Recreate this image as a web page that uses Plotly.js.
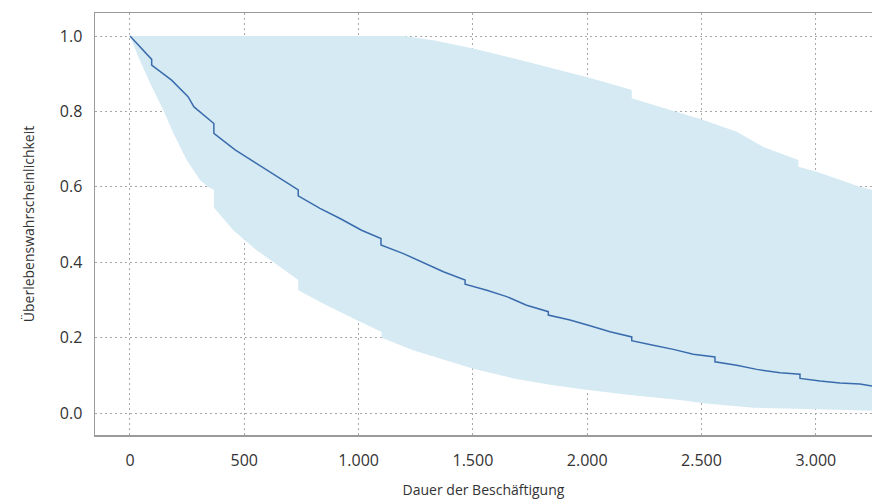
<!DOCTYPE html>
<html>
<head>
<meta charset="utf-8">
<script src="https://cdn.plot.ly/plotly-3.0.1.min.js"></script>
<style>html,body{margin:0;padding:0;background:#fff;overflow:hidden;}#chart{width:872px;height:499px;}</style>
</head>
<body>
<div id="chart"></div>
<script>
// Kaplan-Meier estimate (days, survival probability); repeated days mark visible drops
var kmTime = [0, 95, 95, 182, 254, 280, 367, 367, 460, 554, 641, 736, 736, 831, 919, 1013, 1098, 1098, 1196, 1276, 1371, 1466, 1466, 1561, 1648, 1735, 1830, 1830, 1925, 2005, 2100, 2195, 2195, 2289, 2377, 2464, 2559, 2559, 2654, 2742, 2844, 2931, 2931, 3019, 3106, 3193, 3246];
var kmSurv = [1.0, 0.938, 0.923, 0.883, 0.839, 0.812, 0.768, 0.742, 0.698, 0.662, 0.627, 0.592, 0.576, 0.543, 0.516, 0.485, 0.463, 0.446, 0.423, 0.401, 0.375, 0.353, 0.342, 0.326, 0.309, 0.286, 0.269, 0.260, 0.247, 0.233, 0.216, 0.202, 0.192, 0.180, 0.169, 0.156, 0.149, 0.136, 0.127, 0.116, 0.107, 0.103, 0.092, 0.085, 0.080, 0.077, 0.072];
// Confidence band
var upperTime = [0, 1200, 1327, 1502, 1677, 1851, 2005, 2144, 2195, 2195, 2362, 2508, 2654, 2771, 2924, 2924, 3004, 3092, 3193, 3246];
var upperVal = [1.0, 1.0, 0.989, 0.967, 0.941, 0.914, 0.890, 0.866, 0.857, 0.835, 0.804, 0.777, 0.746, 0.706, 0.671, 0.653, 0.640, 0.622, 0.600, 0.592];
var lowerTime = [0, 36, 95, 146, 190, 248, 306, 340, 367, 367, 452, 554, 627, 736, 736, 845, 991, 1101, 1101, 1239, 1502, 1677, 1851, 2005, 2187, 2406, 2508, 2727, 3004, 3246];
var lowerVal = [1.0, 0.945, 0.866, 0.804, 0.742, 0.671, 0.618, 0.600, 0.592, 0.545, 0.485, 0.432, 0.401, 0.353, 0.326, 0.291, 0.247, 0.215, 0.200, 0.167, 0.118, 0.092, 0.074, 0.061, 0.048, 0.035, 0.026, 0.014, 0.010, 0.006];
var xTickVals = [0, 500, 1000, 1500, 2000, 2500, 3000];
var xTickText = ['0', '500', '1.000', '1.500', '2.000', '2.500', '3.000'];
var yTickVals = [0, 0.2, 0.4, 0.6, 0.8, 1.0];
var yTickText = ['0.0', '0.2', '0.4', '0.6', '0.8', '1.0'];

var bandColor = '#d6eaf3';
var lineColor = '#3a6cad';

var traces = [
  {x: upperTime, y: upperVal, mode: 'lines', line: {width: 0, color: bandColor}, hoverinfo: 'skip', showlegend: false},
  {x: lowerTime, y: lowerVal, mode: 'lines', line: {width: 0, color: bandColor}, fill: 'tonexty', fillcolor: bandColor, hoverinfo: 'skip', showlegend: false},
  {x: kmTime, y: kmSurv, mode: 'lines', line: {width: 1.5, color: lineColor}, showlegend: false}
];

var fontFam = '"Open Sans", "Noto Sans", sans-serif';
var layout = {
  width: 872, height: 499,
  margin: {l: 95, r: 0, t: 13, b: 64},
  paper_bgcolor: '#fff', plot_bgcolor: '#fff',
  font: {family: fontFam, size: 16, color: '#333'},
  showlegend: false,
  xaxis: {
    range: [-153, 3246],
    tickvals: xTickVals, ticktext: xTickText,
    showgrid: true, gridcolor: '#a8a8a8', griddash: '2px,3px', gridwidth: 1,
    zeroline: false,
    showline: true, linecolor: '#9a9a9a', linewidth: 1.5, mirror: true,
    ticks: '', ticklabelstandoff: 10,
    title: {text: 'Dauer der Beschäftigung', font: {size: 14, color: '#333'}, standoff: 15}
  },
  yaxis: {
    range: [-0.058, 1.061],
    tickvals: yTickVals, ticktext: yTickText,
    showgrid: true, gridcolor: '#a8a8a8', griddash: '2px,3px', gridwidth: 1,
    zeroline: false,
    showline: true, linecolor: '#9a9a9a', linewidth: 1.5, mirror: false,
    ticks: '', ticklabelstandoff: 8,
    title: {text: 'Überlebenswahrscheinlichkeit', font: {size: 14, color: '#333'}, standoff: 22}
  }
};

Plotly.newPlot('chart', traces, layout, {displayModeBar: false, staticPlot: true});
</script>
</body>
</html>
